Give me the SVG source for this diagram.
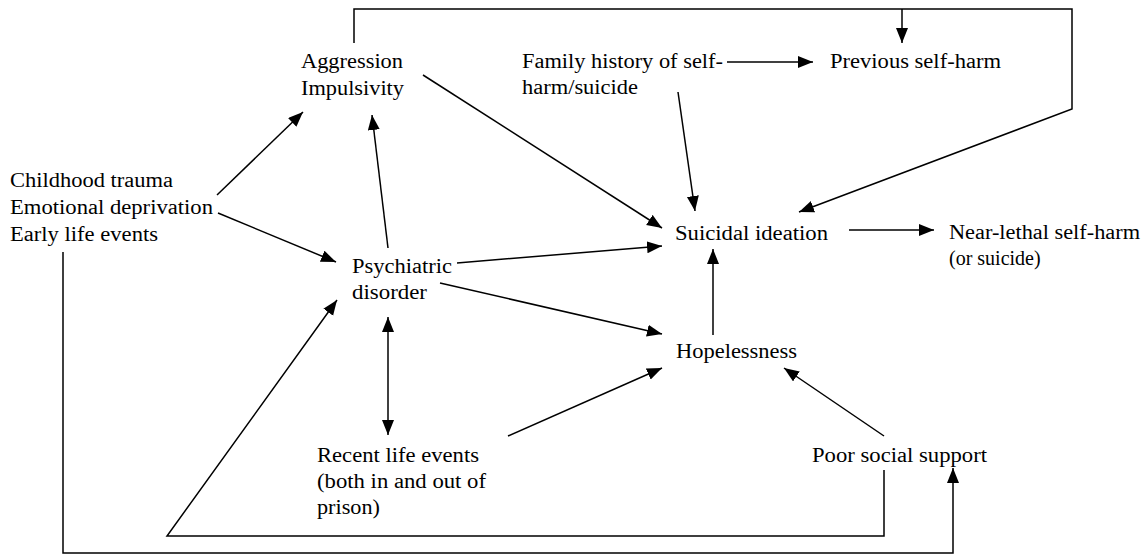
<svg xmlns="http://www.w3.org/2000/svg" width="1145" height="557" viewBox="0 0 1145 557">
<style>
.t{font-size:20px;fill:#000}
.c{fill:none;stroke:#000;stroke-width:1.5}
.a{marker-end:url(#ah)}
.d{marker-start:url(#ah);marker-end:url(#ah)}
</style>
<defs>
<marker id="ah" markerUnits="userSpaceOnUse" markerWidth="16" markerHeight="13" refX="15" refY="6" orient="auto-start-reverse" viewBox="0 0 16 13">
<path d="M0,0 L15,6 L0,12 z" fill="#000"/>
</marker>
</defs>
<rect width="1145" height="557" fill="#fff"/>
<g id="connectors">
<path class="c a" d="M217,195 L303,112"/>
<path class="c a" d="M218,213 L336,262"/>
<path class="c a" d="M388,248 L372,115"/>
<path class="c a" d="M423,75 L662,228"/>
<path class="c a" d="M678,92 L695,211"/>
<path class="c a" d="M727,62 L813,62"/>
<path class="c a" d="M457,263 L662,246"/>
<path class="c a" d="M440,283 L662,334"/>
<path class="c d" d="M388,317 L388,435"/>
<path class="c a" d="M508,436 L662,368"/>
<path class="c a" d="M713,335 L713,249"/>
<path class="c a" d="M849,230 L934,230"/>
<path class="c a" d="M884,436 L784,368"/>
<path class="c a" d="M884,470 L884,536 L167,536 L337,300"/>
<path class="c a" d="M63,252 L63,553 L953,553 L953,468"/>
<path class="c a" d="M354,43 L354,9 L1072,9 L1072,109 L799,212"/>
<path class="c a" d="M902,9 L902,43"/>
</g>
<g class="t" font-family="Liberation Serif, DejaVu Serif, serif">
<g id="aggression">
<text x="301" y="68" textLength="102" lengthAdjust="spacingAndGlyphs">Aggression</text>
<text x="301" y="95" textLength="103" lengthAdjust="spacingAndGlyphs">Impulsivity</text>
</g>
<g id="family-history">
<text x="522" y="68" textLength="201" lengthAdjust="spacingAndGlyphs">Family history of self-</text>
<text x="522" y="94" textLength="116" lengthAdjust="spacingAndGlyphs">harm/suicide</text>
</g>
<g id="previous-self-harm">
<text x="830" y="68" textLength="171" lengthAdjust="spacingAndGlyphs">Previous self-harm</text>
</g>
<g id="childhood">
<text x="10" y="187" textLength="163" lengthAdjust="spacingAndGlyphs">Childhood trauma</text>
<text x="10" y="214" textLength="203" lengthAdjust="spacingAndGlyphs">Emotional deprivation</text>
<text x="10" y="241" textLength="148" lengthAdjust="spacingAndGlyphs">Early life events</text>
</g>
<g id="psychiatric">
<text x="352" y="273" textLength="100" lengthAdjust="spacingAndGlyphs">Psychiatric</text>
<text x="352" y="299" textLength="75" lengthAdjust="spacingAndGlyphs">disorder</text>
</g>
<g id="suicidal-ideation">
<text x="675" y="240" textLength="153" lengthAdjust="spacingAndGlyphs">Suicidal ideation</text>
</g>
<g id="near-lethal">
<text x="949" y="239" textLength="191" lengthAdjust="spacingAndGlyphs">Near-lethal self-harm</text>
<text x="949" y="265">(or suicide)</text>
</g>
<g id="hopelessness">
<text x="676" y="358" textLength="121" lengthAdjust="spacingAndGlyphs">Hopelessness</text>
</g>
<g id="recent-life-events">
<text x="317" y="462" textLength="162" lengthAdjust="spacingAndGlyphs">Recent life events</text>
<text x="317" y="488" textLength="169" lengthAdjust="spacingAndGlyphs">(both in and out of</text>
<text x="317" y="514" textLength="63" lengthAdjust="spacingAndGlyphs">prison)</text>
</g>
<g id="poor-social-support">
<text x="812" y="462" textLength="175" lengthAdjust="spacingAndGlyphs">Poor social support</text>
</g>
</g>
</svg>
